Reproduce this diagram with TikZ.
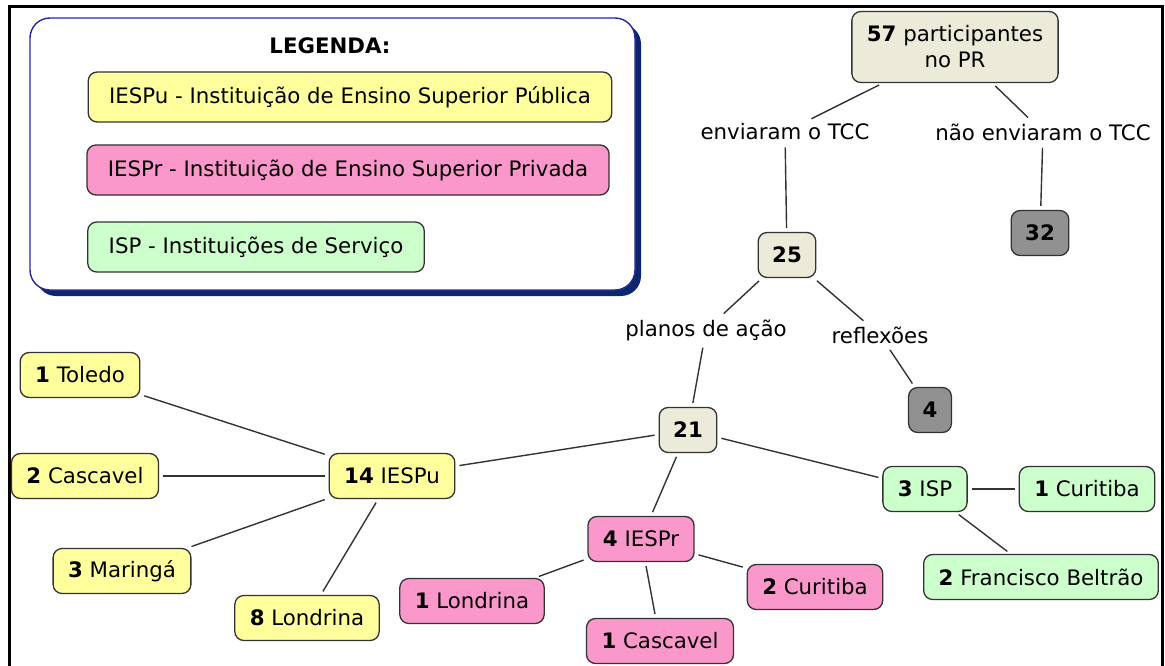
\documentclass[tikz,border=0pt]{standalone}
\usepackage{fontspec}
\setmainfont{DejaVu Sans}
\definecolor{pubyellow}{RGB}{255,255,158}
\definecolor{privpink}{RGB}{250,152,204}
\definecolor{servgreen}{RGB}{204,255,204}
\definecolor{topbeige}{RGB}{236,234,216}
\definecolor{outgray}{RGB}{145,145,145}
\definecolor{legblue}{RGB}{40,40,150}
\definecolor{legnavy}{RGB}{12,38,110}

\begin{document}
\begin{tikzpicture}[x=1pt,y=-1pt,
    every node/.style={font=\fontsize{21.3}{26}\selectfont},
    box/.style={draw=black!80, line width=1.3pt, rounded corners=9pt,
      inner xsep=15pt, minimum height=45pt},
    pub/.style={box, fill=pubyellow},
    priv/.style={box, fill=privpink},
    serv/.style={box, fill=servgreen},
    tot/.style={box, fill=topbeige},
    leftout/.style={box, fill=outgray},
    lab/.style={inner sep=3pt},
    legitem/.style={box, inner xsep=21pt, minimum height=50pt},
    link/.style={draw=black!80, line width=1.4pt, shorten >=4pt, shorten <=4pt}]
    \useasboundingbox (0,0) rectangle (1165,666);
    \draw [line width=3pt] (9,680) -- (9,7) -- (1162,7) -- (1162,680);
    \fill [legnavy, rounded corners=20pt] (36,24) rectangle (641,296);
    \draw [legblue, fill=white, line width=1.4pt, rounded corners=20pt] (30,18) rectangle (635,290);
    \node (legtitle) at (330,46) {\textbf{LEGENDA:}};
    \node [legitem, fill=pubyellow] (legpub) at (350,97) {IESPu - Instituição de Ensino Superior Pública};
    \node [legitem, fill=privpink] (legpriv) at (348,170) {IESPr - Instituição de Ensino Superior Privada};
    \node [legitem, fill=servgreen] (legserv) at (256,247) {ISP - Instituições de Serviço};
    \node [tot, align=center, minimum height=71pt] (total) at (955,47) {\textbf{57} participantes\\no PR};
    \node [lab] (env) at (785,132) {enviaram o TCC};
    \node [lab] (naoenv) at (1043,132) {não enviaram o TCC};
    \node [tot, inner xsep=14pt] (n25) at (787,255) {\textbf{25}};
    \node [leftout, inner xsep=14pt] (n32) at (1040,233) {\textbf{32}};
    \node [lab] (planos) at (706,330) {planos de ação};
    \node [lab] (reflex) at (880,335) {reflexões};
    \node [leftout, inner xsep=14pt] (n4) at (930,410) {\textbf{4}};
    \node [tot, inner xsep=14pt] (n21) at (688,430) {\textbf{21}};
    \node [pub] (iespu) at (392,476) {\textbf{14} IESPu};
    \node [pub] (toledo) at (80,375) {\textbf{1} Toledo};
    \node [pub] (cascpu) at (85,476) {\textbf{2} Cascavel};
    \node [pub] (maringa) at (122,571) {\textbf{3} Maringá};
    \node [pub] (londpu) at (307,618) {\textbf{8} Londrina};
    \node [priv] (iespr) at (641,539) {\textbf{4} IESPr};
    \node [priv] (londpr) at (472,601) {\textbf{1} Londrina};
    \node [priv] (curpr) at (815,587) {\textbf{2} Curitiba};
    \node [priv] (cascpr) at (660,641) {\textbf{1} Cascavel};
    \node [serv] (isp) at (925,489) {\textbf{3} ISP};
    \node [serv] (curisp) at (1087,489) {\textbf{1} Curitiba};
    \node [serv] (fbeltrao) at (1041,577) {\textbf{2} Francisco Beltrão};
    \draw [link] (total) -- (env);
    \draw [link] (total) -- (naoenv);
    \draw [link] (env) -- (n25);
    \draw [link] (naoenv) -- (n32);
    \draw [link] (n25) -- (planos);
    \draw [link] (n25) -- (reflex);
    \draw [link] (planos) -- (n21);
    \draw [link] (reflex) -- (n4);
    \draw [link] (n21) -- (iespu);
    \draw [link] (n21) -- (isp);
    \draw [link] (n21) -- (iespr);
    \draw [link] (iespu) -- (toledo);
    \draw [link] (iespu) -- (cascpu);
    \draw [link] (iespu) -- (maringa);
    \draw [link] (iespu) -- (londpu);
    \draw [link] (iespr) -- (londpr);
    \draw [link] (iespr) -- (curpr);
    \draw [link] (iespr) -- (cascpr);
    \draw [link] (isp) -- (curisp);
    \draw [link] (isp) -- (fbeltrao);
\end{tikzpicture}
\end{document}
